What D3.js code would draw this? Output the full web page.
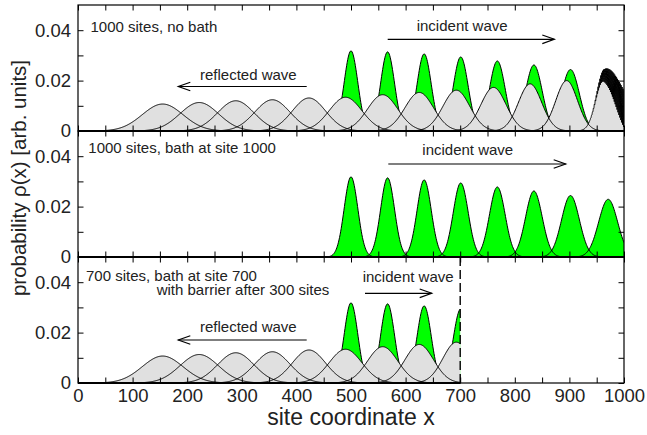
<!DOCTYPE html>
<html>
<head>
<meta charset="utf-8">
<script src="https://cdn.jsdelivr.net/npm/d3@7"></script>
<style>
  html, body { margin: 0; padding: 0; background: #fff; }
  svg { display: block; }
  text { font-family: "Liberation Sans", Arial, Helvetica, sans-serif; fill: #222; }
</style>
</head>
<body>
<svg id="chart" width="647" height="435"></svg>
<script>
// Wave-packet snapshots: peak position (site), peak density, packet width (sites)
const incidentCenters = [500, 567, 634, 701, 768, 835, 902, 971];
const incidentPeaks   = [0.0318, 0.0314, 0.0306, 0.0294, 0.0278, 0.0262, 0.0244, 0.0229];
const incidentWidths  = [12.5, 12.7, 13.0, 13.6, 14.3, 15.2, 16.3, 17.4];

const reflectedCenters = [155, 222, 289, 356, 423, 490, 558, 625, 693, 761, 828, 895];
const reflectedPeaks   = [0.0107, 0.0113, 0.0120, 0.0124, 0.0131, 0.0134, 0.0144, 0.0153, 0.0162, 0.0173, 0.0187, 0.0200];
const reflectedWidths  = [37.3, 35.3, 33.2, 32.2, 30.5, 29.8, 27.7, 26.1, 24.6, 23.1, 21.3, 19.9];

// Packet hitting the open end at site 1000 (interference fringes near the wall)
const wallCenter = 963, wallPeak = 0.022, wallWidthLeft = 14, wallWidthRight = 27;
const fringeDepth = 0.87, fringeDecay = 18, fringePeriod = 1.7, wallSite = 1000;

// Axis ticks
const xTickValues = [0,50,100,150,200,250,300,350,400,450,500,550,600,650,700,750,800,850,900,950,1000];
const xTickLabels = [0,100,200,300,400,500,600,700,800,900,1000];
const yTickValues = [0, 0.01, 0.02, 0.03, 0.04];
const yTickLabels = [0, 0.02, 0.04];

// Panel captions
const panelTitles = ["1000 sites, no bath", "1000 sites, bath at site 1000", "700 sites, bath at site 700"];
const barrierNote = "with barrier after 300 sites";
const incidentLabel = "incident wave";
const reflectedLabel = "reflected wave";
const xTitle = "site coordinate x";
const yTitle = "probability \u03c1(x) [arb. units]";

const svg = d3.select("#chart");
const x = d3.scaleLinear().domain([0, 1000]).range([78, 624]);
const panelTops = [5, 131, 257];
const panelH = 126;

const panels = [
  { incident: [0,1,2,3,4,5,6], reflected: d3.range(reflectedCenters.length), wall: true, xmax: 1000 },
  { incident: [0,1,2,3,4,5,6,7], reflected: [], wall: false, xmax: 1000 },
  { incident: [0,1,2,3], reflected: [0,1,2,3,4,5,6,7,8], wall: false, xmax: 700 }
];

function gauss(c, h, s) {
  return v => h * Math.exp(-((v - c) ** 2) / (2 * s * s));
}
function wallDensity(v) {
  const s = v < wallCenter ? wallWidthLeft : wallWidthRight;
  const g = wallPeak * Math.exp(-((v - wallCenter) ** 2) / (2 * s * s));
  const m = fringeDepth * Math.exp(-(wallSite - v) / fringeDecay);
  return g * (1 + m * Math.cos(2 * Math.PI * (wallSite - v) / fringePeriod));
}

const fmtY = d => d === 0 ? "0" : d3.format(".2f")(d);

panels.forEach((p, i) => {
  const top = panelTops[i];
  const y = d3.scaleLinear().domain([0, 0.05]).range([top + panelH, top]);
  const g = svg.append("g");

  const clipId = "clip" + i;
  svg.append("clipPath").attr("id", clipId)
    .append("rect").attr("x", x(0)).attr("y", top - 1).attr("width", x(1000) - x(0)).attr("height", panelH + 2);
  const plot = g.append("g").attr("clip-path", `url(#${clipId})`);

  const xs = d3.range(0, p.xmax + 0.001, 1);
  const area = f => d3.area().x(v => x(v)).y0(y(0)).y1(v => y(f(v)));
  const line = f => d3.line().x(v => x(v)).y(v => y(f(v)));

  // incident packets (green)
  const incF = p.incident.map(k => gauss(incidentCenters[k], incidentPeaks[k], incidentWidths[k]));
  incF.forEach(f => plot.append("path").attr("d", area(f)(xs)).attr("fill", "#00ff00").attr("stroke", "none"));
  incF.forEach(f => plot.append("path").attr("d", line(f)(xs)).attr("fill", "none").attr("stroke", "#000").attr("stroke-width", 1));

  // reflected packets (grey)
  const refF = p.reflected.map(k => gauss(reflectedCenters[k], reflectedPeaks[k], reflectedWidths[k]));
  refF.forEach(f => plot.append("path").attr("d", area(f)(xs)).attr("fill", "#e0e0e0").attr("stroke", "none"));
  if (p.wall) {
    const wx = d3.range(0, 930, 1).concat(d3.range(930, 1000.001, 0.1));
    plot.append("path").attr("d", area(wallDensity)(wx)).attr("fill", "#e0e0e0").attr("stroke", "none");
    refF.forEach(f => plot.append("path").attr("d", line(f)(xs)).attr("fill", "none").attr("stroke", "#000").attr("stroke-width", 1));
    plot.append("path").attr("d", line(wallDensity)(wx)).attr("fill", "none").attr("stroke", "#000").attr("stroke-width", 1);
  } else {
    refF.forEach(f => plot.append("path").attr("d", line(f)(xs)).attr("fill", "none").attr("stroke", "#000").attr("stroke-width", 1));
  }

  // inward ticks on all four sides
  const isBottom = i === panels.length - 1;
  const axB = d3.axisBottom(x).tickValues(xTickValues).tickSize(-5.5).tickPadding(5.6)
    .tickFormat(d => (isBottom && xTickLabels.includes(d)) ? String(d) : "");
  const axT = d3.axisTop(x).tickValues(xTickValues).tickSize(-5.5).tickFormat("");
  const axL = d3.axisLeft(y).tickValues(yTickValues).tickSize(-5.5).tickPadding(7)
    .tickFormat(d => yTickLabels.includes(d) ? fmtY(d) : "");
  const axR = d3.axisRight(y).tickValues(yTickValues).tickSize(-5.5).tickFormat("");

  const style = sel => {
    sel.select(".domain").remove();
    sel.selectAll("line").attr("stroke", "#000").attr("stroke-width", 1);
    sel.selectAll("text").attr("font-size", "18.5px").attr("fill", "#222")
      .attr("font-family", '"Liberation Sans", Arial, sans-serif');
  };
  g.append("g").attr("transform", `translate(0,${top + panelH})`).call(axB).call(style);
  g.append("g").attr("transform", `translate(0,${top})`).call(axT).call(style);
  g.append("g").attr("transform", `translate(${x(0)},0)`).call(axL).call(style);
  g.append("g").attr("transform", `translate(${x(1000)},0)`).call(axR).call(style);

  // frame
  g.append("rect").attr("x", x(0)).attr("y", top).attr("width", x(1000) - x(0)).attr("height", panelH)
    .attr("fill", "none").attr("stroke", "#000").attr("stroke-width", 1.2);
});

// annotations
function arrow(x1, x2, yy) {
  const dir = x2 > x1 ? 1 : -1;
  svg.append("line").attr("x1", x1).attr("x2", x2).attr("y1", yy).attr("y2", yy)
    .attr("stroke", "#000").attr("stroke-width", 1.2);
  svg.append("polyline")
    .attr("points", `${x2 - dir * 12},${yy - 4.3} ${x2},${yy} ${x2 - dir * 12},${yy + 4.3}`)
    .attr("fill", "none").attr("stroke", "#000").attr("stroke-width", 1.2);
}
function label(txt, px, py, size) {
  svg.append("text").attr("x", px).attr("y", py).attr("font-size", size + "px").text(txt);
}

label(panelTitles[0], 90.5, 31.7, 15);
label(reflectedLabel, 200, 80, 15);
arrow(306.7, 178.3, 86.5);
label(incidentLabel, 416.7, 31, 15);
arrow(387.7, 554.3, 39.3);

label(panelTitles[1], 88.3, 153.3, 15);
label(incidentLabel, 422.3, 155, 15);
arrow(388.3, 565.7, 164);

label(panelTitles[2], 86, 280.7, 15);
label(barrierNote, 156.7, 295, 15);
label(incidentLabel, 362.7, 281.7, 15);
arrow(365, 431.7, 293.3);
label(reflectedLabel, 200, 331.7, 15);
arrow(306.7, 178.3, 340);

// barrier / bath position
svg.append("line").attr("x1", x(700)).attr("x2", x(700)).attr("y1", panelTops[2]).attr("y2", panelTops[2] + panelH)
  .attr("stroke", "#000").attr("stroke-width", 1.4).attr("stroke-dasharray", "9,4");

// axis titles
svg.append("text").attr("x", 351).attr("y", 425).attr("text-anchor", "middle").attr("font-size", "23px").text(xTitle);
svg.append("text").attr("transform", "translate(25.5,178) rotate(-90)").attr("text-anchor", "middle")
  .attr("font-size", "20.5px").text(yTitle);
</script>
</body>
</html>
